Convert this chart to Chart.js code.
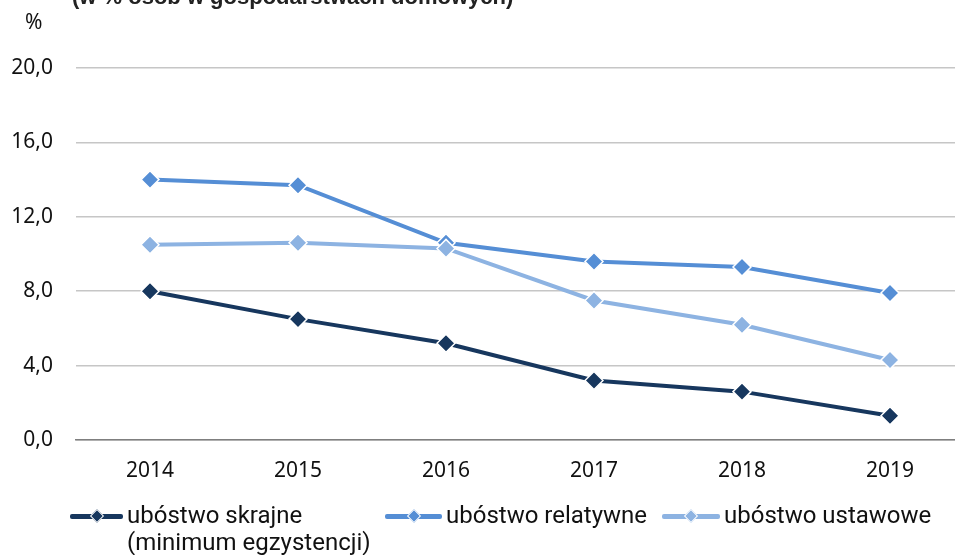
<!DOCTYPE html>
<html>
<head>
<meta charset="utf-8">
<script src="https://cdn.jsdelivr.net/npm/chart.js@4"></script>
<style>
  html, body { margin: 0; padding: 0; background: #fff; overflow: hidden; }
  #wrap { position: relative; width: 955px; height: 555px; overflow: hidden; }
  #box { position: absolute; left: 0; top: 0; width: 975px; height: 555px; }
  .title { position: absolute; left: 72px; top: -13px; font: bold 22px "Liberation Sans", Arial, sans-serif; color: #222; white-space: nowrap; line-height: 20px; }
  .unit { position: absolute; left: 25px; top: 8px; font: 21px "Noto Sans", sans-serif; color: #111; line-height: 26px; }
  .legend { position: absolute; top: 502px; font: 24px Roboto, "Noto Sans", sans-serif; color: #111; line-height: 27px; }
  .mk { position: absolute; top: 12px; height: 5px; border-radius: 2px; }
  .mk i { position: absolute; left: 50%; top: -3px; width: 8px; height: 8px; margin-left: -5px; transform: rotate(45deg); border: 1px solid #fff; }
  .txt { position: absolute; white-space: nowrap; }
</style>
</head>
<body>
<div id="wrap">
  <div id="box"><canvas id="chart"></canvas></div>
  <div class="title">(w % osób w gospodarstwach domowych)</div>
  <div class="unit">%</div>
  <div id="legend"></div>
</div>
<script>
const years = ['2014', '2015', '2016', '2017', '2018', '2019'];
const skrajne = [8.0, 6.5, 5.2, 3.2, 2.6, 1.3];
const relatywne = [14.0, 13.7, 10.6, 9.6, 9.3, 7.9];
const ustawowe = [10.5, 10.6, 10.3, 7.5, 6.2, 4.3];
const seriesNames = ['ubóstwo skrajne\n(minimum egzystencji)', 'ubóstwo relatywne', 'ubóstwo ustawowe'];
const colors = ['#17375e', '#558ed5', '#8db3e2'];

const mkDataset = (label, data, color) => ({
  label: label,
  data: data,
  borderColor: color,
  backgroundColor: color,
  borderWidth: 4,
  pointStyle: 'rectRot',
  pointRadius: 9,
  pointHoverRadius: 9,
  pointBorderColor: '#fff',
  pointBorderWidth: 1.5,
  pointBackgroundColor: color,
  tension: 0
});

new Chart(document.getElementById('chart'), {
  type: 'line',
  data: {
    labels: years,
    datasets: [
      mkDataset(seriesNames[2], ustawowe, colors[2]),
      mkDataset(seriesNames[1], relatywne, colors[1]),
      mkDataset(seriesNames[0], skrajne, colors[0])
    ]
  },
  options: {
    responsive: true,
    maintainAspectRatio: false,
    animation: false,
    layout: { padding: { top: 68, right: 11, left: 0, bottom: 0 } },
    plugins: { legend: { display: false }, tooltip: { enabled: false } },
    scales: {
      x: {
        offset: true,
        grid: { display: false },
        border: { display: true, color: '#7f7f7f', width: 1.5 },
        ticks: { color: '#111', font: { family: 'Noto Sans', size: 21 }, padding: 10 },
        afterFit: s => { s.height = 115; }
      },
      y: {
        min: 0,
        max: 20,
        grid: { color: '#c6c6c6', lineWidth: 1.5, drawTicks: false },
        border: { display: false },
        ticks: {
          stepSize: 4,
          padding: 23,
          color: '#111',
          font: { family: 'Noto Sans', size: 21 },
          callback: v => v.toFixed(1).replace('.', ',')
        },
        afterFit: s => { s.width = 76; }
      }
    }
  }
});

// legend built by hand because the first label wraps onto two lines
const legendPos = [
  { mk: 70, txt: 127 },
  { mk: 385, txt: 446 },
  { mk: 662, txt: 724 }
];
const legend = document.getElementById('legend');
seriesNames.forEach((name, i) => {
  const p = legendPos[i];
  const item = document.createElement('div');
  item.className = 'legend';
  item.style.left = '0px';
  item.innerHTML =
    '<span class="mk" style="left:' + p.mk + 'px;width:' + (p.txt - p.mk - 4) + 'px;background:' + colors[i] + '"><i style="background:' + colors[i] + '"></i></span>' +
    '<span class="txt" style="left:' + p.txt + 'px">' + name.replace('\n', '<br>') + '</span>';
  legend.appendChild(item);
});
</script>
</body>
</html>
